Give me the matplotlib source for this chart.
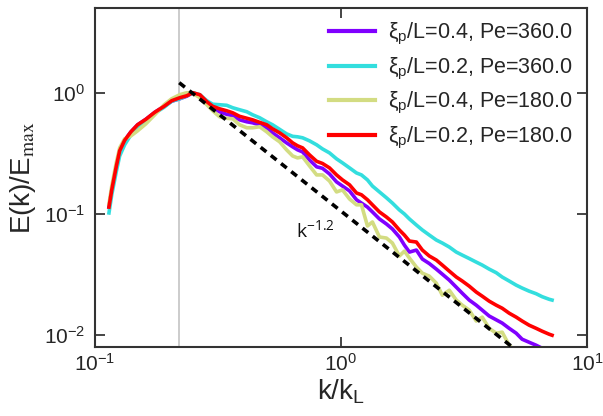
import matplotlib
matplotlib.use("Agg")
import matplotlib.pyplot as plt

plt.rcParams['font.family'] = ['Liberation Sans', 'DejaVu Sans']
plt.rcParams['mathtext.fontset'] = 'stix'
plt.rcParams['mathtext.default'] = 'regular'

k = [0.114, 0.117, 0.122, 0.126, 0.132, 0.140, 0.149, 0.161, 0.175, 0.191,
     0.205, 0.221, 0.236, 0.250, 0.267, 0.285, 0.301, 0.321, 0.343, 0.363,
     0.387, 0.414, 0.437, 0.467, 0.499, 0.527, 0.563, 0.601, 0.636, 0.666,
     0.698, 0.745, 0.796, 0.841, 0.898, 0.959, 1.014, 1.083, 1.156, 1.211,
     1.281, 1.342, 1.433, 1.530, 1.618, 1.727, 1.810, 1.897, 2.025, 2.141,
     2.286, 2.440, 2.581, 2.755, 2.942, 3.111, 3.321, 3.546, 3.750, 4.003,
     4.274, 4.520, 4.826, 5.152, 5.448, 5.817, 6.211, 6.568, 7.013, 7.21]

E_xi04_pe360 = [0.114, 0.158, 0.245, 0.332, 0.405, 0.476, 0.544, 0.604, 0.690, 0.773,
                0.851, 0.892, 0.936, 1.0, 0.944, 0.827, 0.745, 0.697, 0.664, 0.646,
                0.598, 0.576, 0.565, 0.544, 0.514, 0.467, 0.425, 0.386, 0.358, 0.338,
                0.325, 0.279, 0.245, 0.238, 0.214, 0.184, 0.170, 0.155, 0.131, 0.123,
                0.114, 0.104, 0.0910, 0.0827, 0.0752, 0.0646, 0.0554, 0.0485, 0.0504, 0.0425,
                0.0390, 0.0351, 0.0319, 0.0285, 0.0249, 0.0222, 0.0195, 0.0177, 0.0161, 0.0144,
                0.0134, 0.0126, 0.0114, 0.0104, 0.00927, 0.00875, 0.00827, 0.00781, 0.00738, 0.00710]

E_xi02_pe360 = [0.102, 0.144, 0.222, 0.301, 0.372, 0.450, 0.524, 0.592, 0.677, 0.759,
                0.851, 0.892, 0.944, 1.0, 0.963, 0.859, 0.804, 0.796, 0.788, 0.752,
                0.724, 0.697, 0.658, 0.622, 0.576, 0.544, 0.499, 0.458, 0.437, 0.433,
                0.425, 0.401, 0.372, 0.344, 0.319, 0.285, 0.264, 0.240, 0.218, 0.210,
                0.191, 0.170, 0.152, 0.136, 0.123, 0.108, 0.100, 0.0910, 0.0811, 0.0738,
                0.0670, 0.0610, 0.0576, 0.0534, 0.0485, 0.0458, 0.0429, 0.0401, 0.0379, 0.0351,
                0.0328, 0.0302, 0.0280, 0.0259, 0.0245, 0.0231, 0.0220, 0.0208, 0.0198, 0.0195]

E_xi04_pe180 = [0.121, 0.170, 0.264, 0.351, 0.417, 0.441, 0.485, 0.554, 0.658, 0.796,
                0.892, 0.963, 1.0, 0.99, 0.909, 0.796, 0.710, 0.633, 0.616, 0.610,
                0.544, 0.514, 0.514, 0.524, 0.476, 0.433, 0.394, 0.338, 0.301, 0.290,
                0.296, 0.249, 0.210, 0.210, 0.187, 0.152, 0.158, 0.133, 0.119, 0.119,
                0.0796, 0.0859, 0.0646, 0.0633, 0.0576, 0.0450, 0.0494, 0.0433, 0.0365, 0.0325,
                0.0307, 0.0269, 0.0214, 0.0235, 0.0195, 0.0177, 0.0161, 0.0131, 0.0141, 0.0114,
                0.0104, 0.0106, 0.00827, 0.00724, 0.00684, 0.00622, 0.00554, 0.00514, 0.00467, 0.00450]

E_xi02_pe180 = [0.114, 0.158, 0.245, 0.332, 0.405, 0.476, 0.544, 0.604, 0.690, 0.773,
                0.859, 0.909, 0.944, 1.0, 0.963, 0.843, 0.773, 0.737, 0.710, 0.683,
                0.639, 0.616, 0.598, 0.570, 0.544, 0.504, 0.467, 0.425, 0.386, 0.365,
                0.351, 0.307, 0.272, 0.261, 0.240, 0.210, 0.191, 0.174, 0.149, 0.144,
                0.131, 0.119, 0.104, 0.0944, 0.0859, 0.0738, 0.0670, 0.0598, 0.0587, 0.0504,
                0.0450, 0.0417, 0.0379, 0.0338, 0.0302, 0.0280, 0.0254, 0.0227, 0.0210, 0.0191,
                0.0177, 0.0167, 0.0152, 0.0141, 0.0131, 0.0121, 0.0114, 0.0108, 0.0102, 0.0100]

series_labels = ['ξ$_\\mathdefault{p}$/L=0.4, Pe=360.0',
                 'ξ$_\\mathdefault{p}$/L=0.2, Pe=360.0',
                 'ξ$_\\mathdefault{p}$/L=0.4, Pe=180.0',
                 'ξ$_\\mathdefault{p}$/L=0.2, Pe=180.0']
series_colors = ['#8000ff', '#33dede', '#d3dc82', '#ff0000']

ref_k = [0.22, 6.0]
ref_E = [1.21, 0.0059]
ref_label = 'k$^{-1.2}$'
vline_k = 0.22

fig = plt.figure(figsize=(6.03, 4.16), dpi=100)
ax = fig.add_axes([0.1575, 0.1659, 0.8160, 0.8149])

ax.axvline(vline_k, color='#c4c4c4', lw=1.2, zorder=1)
for E, lab, c in zip([E_xi04_pe360, E_xi02_pe360, E_xi04_pe180, E_xi02_pe180],
                     series_labels, series_colors):
    ax.plot(k, E, color=c, lw=2.6, label=lab, zorder=2)
ax.plot(ref_k, ref_E, color='black', lw=2.6, linestyle=(0, (2, 1.6)), zorder=3)
ax.text(0.658, 0.0645, ref_label, fontsize=14, ha='left', va='baseline',
        family=['Open Sans', 'DejaVu Sans'], color='#111111')

ax.set_xscale('log')
ax.set_yscale('log')
ax.set_xlim(0.1, 10)
ax.set_ylim(0.008, 5.0)
ax.minorticks_off()
ax.tick_params(which='major', direction='in', length=7, width=1.2, top=True, right=True,
               labelsize=15, colors='#262626')
ax.tick_params(axis='x', pad=4)
ax.tick_params(axis='y', pad=7)
for s in ax.spines.values():
    s.set_color('#333333')
    s.set_linewidth(1.5)

ax.set_xlabel('k/k$_\\mathdefault{L}$', fontsize=20, color='#262626', labelpad=2)
ax.set_ylabel('E(k)/E$_{\\rm max}$', fontsize=20, color='#262626', labelpad=4)

leg = ax.legend(loc='upper right', frameon=False, fontsize=15.5, handlelength=2.1,
                handletextpad=0.6, labelspacing=0.4, borderaxespad=0.2,
                bbox_to_anchor=(0.997, 1.0))
for t in leg.get_texts():
    t.set_color('#262626')
for h in leg.get_lines():
    h.set_linewidth(3.0)

fig.savefig('out.png', dpi=100)
